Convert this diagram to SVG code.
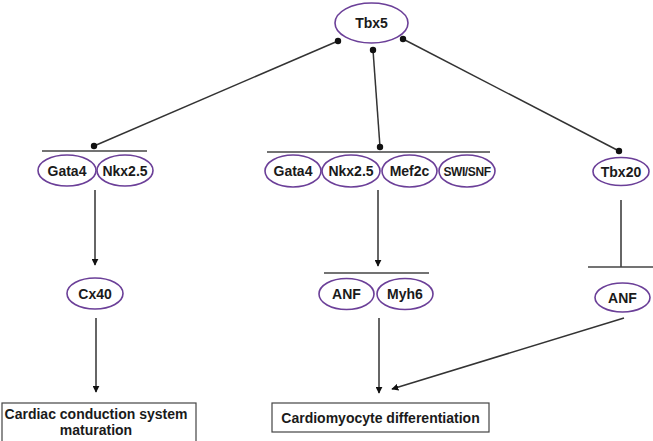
<svg xmlns="http://www.w3.org/2000/svg" width="653" height="441" viewBox="0 0 653 441">
<style>
.n{fill:#fff;stroke:#6b3f98;stroke-width:1.6}
.t{font-family:"Liberation Sans",Arial,sans-serif;font-weight:bold;font-size:14px;fill:#1a1a1a;text-anchor:middle}
.l{stroke:#333;stroke-width:1.5;fill:none}
.bar{stroke:#444;stroke-width:1.5}
.box{fill:#fff;stroke:#444;stroke-width:1.2}
.d{fill:#111}
</style>
<defs>
<marker id="ah" viewBox="0 0 10 10" refX="9" refY="5" markerWidth="7" markerHeight="7" orient="auto" markerUnits="userSpaceOnUse">
<path d="M0,0 L10,5 L0,10 z" fill="#111"/>
</marker>
</defs>
<g id="connectors">
<line class="l" x1="338" y1="41" x2="94" y2="146"/>
<circle class="d" cx="338" cy="41" r="3.2"/>
<circle class="d" cx="94" cy="146" r="3.2"/>
<line class="l" x1="373" y1="50" x2="380" y2="147"/>
<circle class="d" cx="373" cy="50" r="3.2"/>
<circle class="d" cx="380" cy="147" r="3.2"/>
<line class="l" x1="403" y1="39" x2="619" y2="151"/>
<circle class="d" cx="403" cy="39" r="3.2"/>
<circle class="d" cx="619" cy="151" r="3.2"/>
<line class="bar" x1="42" y1="151" x2="147" y2="151"/>
<line class="bar" x1="267" y1="152" x2="490" y2="152"/>
<line class="l" x1="95" y1="190" x2="95" y2="265" marker-end="url(#ah)"/>
<line class="l" x1="378" y1="190" x2="378" y2="266" marker-end="url(#ah)"/>
<line class="bar" x1="324" y1="273" x2="429" y2="273"/>
<line class="l" x1="621" y1="200" x2="621" y2="267"/>
<line class="bar" x1="588" y1="267" x2="653" y2="267"/>
<line class="l" x1="96" y1="318" x2="96" y2="392" marker-end="url(#ah)"/>
<line class="l" x1="379" y1="318" x2="379" y2="393" marker-end="url(#ah)"/>
<line class="l" x1="624" y1="318" x2="392" y2="389" marker-end="url(#ah)"/>
</g>
<g id="tbx5"><ellipse class="n" cx="371.5" cy="23" rx="36.5" ry="20"/><text class="t" x="371.5" y="28">Tbx5</text></g>
<g id="gata4-a"><ellipse class="n" cx="67" cy="170.5" rx="29" ry="15.5"/><text class="t" x="67" y="175.5">Gata4</text></g>
<g id="nkx25-a"><ellipse class="n" cx="125" cy="170.5" rx="28" ry="15.5"/><text class="t" x="125" y="175.5">Nkx2.5</text></g>
<g id="gata4-b"><ellipse class="n" cx="293" cy="171" rx="28" ry="16"/><text class="t" x="293" y="176">Gata4</text></g>
<g id="nkx25-b"><ellipse class="n" cx="351" cy="171" rx="29" ry="16"/><text class="t" x="351" y="176">Nkx2.5</text></g>
<g id="mef2c"><ellipse class="n" cx="409.5" cy="171" rx="27.5" ry="16"/><text class="t" x="409.5" y="176">Mef2c</text></g>
<g id="swisnf"><ellipse class="n" cx="467" cy="171" rx="28" ry="16"/><text class="t" x="467" y="175.5" style="font-size:12px;letter-spacing:-0.4px">SWI/SNF</text></g>
<g id="tbx20"><ellipse class="n" cx="621" cy="171.5" rx="28" ry="14"/><text class="t" x="621" y="176.5">Tbx20</text></g>
<g id="cx40"><ellipse class="n" cx="95" cy="293.5" rx="28" ry="15.5"/><text class="t" x="95" y="298.5">Cx40</text></g>
<g id="anf-a"><ellipse class="n" cx="346.5" cy="294" rx="27.5" ry="15.5"/><text class="t" x="346.5" y="299">ANF</text></g>
<g id="myh6"><ellipse class="n" cx="405" cy="294" rx="28" ry="15.5"/><text class="t" x="405" y="299">Myh6</text></g>
<g id="anf-b"><ellipse class="n" cx="622.5" cy="297.5" rx="27.5" ry="14.5"/><text class="t" x="622.5" y="302.5">ANF</text></g>
<g id="ccs"><rect class="box" x="2" y="403" width="194" height="45"/><text class="t" x="96" y="419">Cardiac conduction system</text><text class="t" x="96" y="435">maturation</text></g>
<g id="cmd"><rect class="box" x="272" y="403" width="217" height="29"/><text class="t" x="380.5" y="423">Cardiomyocyte differentiation</text></g>
</svg>
